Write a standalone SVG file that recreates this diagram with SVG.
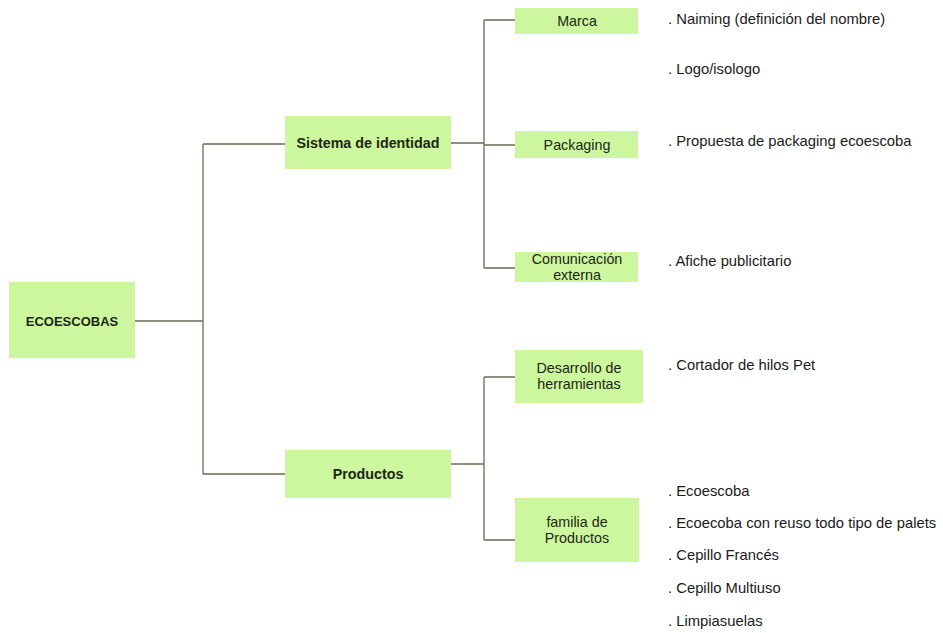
<svg xmlns="http://www.w3.org/2000/svg" width="943" height="633" viewBox="0 0 943 633">
<style>
.box{fill:#ccf79f;}
.ln{fill:none;stroke:#6b6b55;stroke-width:1.3;}
.t{font-family:"Liberation Sans",Arial,sans-serif;font-size:14.3px;fill:#1c2614;text-anchor:middle;}
.b{font-weight:bold;}
.it{font-family:"Liberation Sans",Arial,sans-serif;font-size:14.8px;fill:#1a1a1a;}
</style>
<rect width="943" height="633" fill="#ffffff"/>
<g id="connectors">
<path class="ln" d="M135,321 H203 M203,144 V474 M203,144 H285 M203,474 H285"/>
<path class="ln" d="M451,143 H484 M484,20 V268 M484,20 H515 M484,145 H515 M484,268 H515"/>
<path class="ln" d="M451,464 H484 M484,377 V540 M484,377 H515 M484,540 H515"/>
</g>
<g id="ecoescobas"><rect class="box" x="9" y="282" width="126" height="76"/><text class="t b" x="72" y="326" style="font-size:13px">ECOESCOBAS</text></g>
<g id="sistema"><rect class="box" x="285" y="116" width="166" height="53"/><text class="t b" x="368" y="148">Sistema de identidad</text></g>
<g id="productos"><rect class="box" x="285" y="450" width="166" height="48"/><text class="t b" x="368" y="479">Productos</text></g>
<g id="marca"><rect class="box" x="515" y="8" width="123" height="26"/><text class="t" x="577" y="26">Marca</text></g>
<g id="packaging"><rect class="box" x="515" y="131" width="123" height="27"/><text class="t" x="577" y="150">Packaging</text></g>
<g id="comunicacion"><rect class="box" x="515" y="252" width="123" height="30"/><text class="t" x="577" y="264">Comunicación</text><text class="t" x="577" y="280">externa</text></g>
<g id="desarrollo"><rect class="box" x="515" y="350" width="128" height="53"/><text class="t" x="579" y="373">Desarrollo de</text><text class="t" x="579" y="389">herramientas</text></g>
<g id="familia"><rect class="box" x="515" y="498" width="124" height="64"/><text class="t" x="577" y="527">familia de</text><text class="t" x="577" y="543">Productos</text></g>
<g id="items">
<text class="it" x="668" y="24">. Naiming (definición del nombre)</text>
<text class="it" x="668" y="74">. Logo/isologo</text>
<text class="it" x="668" y="146">. Propuesta de packaging ecoescoba</text>
<text class="it" x="668" y="266">. Afiche publicitario</text>
<text class="it" x="668" y="370">. Cortador de hilos Pet</text>
<text class="it" x="668" y="496">. Ecoescoba</text>
<text class="it" x="668" y="528">. Ecoecoba con reuso todo tipo de palets</text>
<text class="it" x="668" y="560">. Cepillo Francés</text>
<text class="it" x="668" y="593">. Cepillo Multiuso</text>
<text class="it" x="668" y="626">. Limpiasuelas</text>
</g>
</svg>
